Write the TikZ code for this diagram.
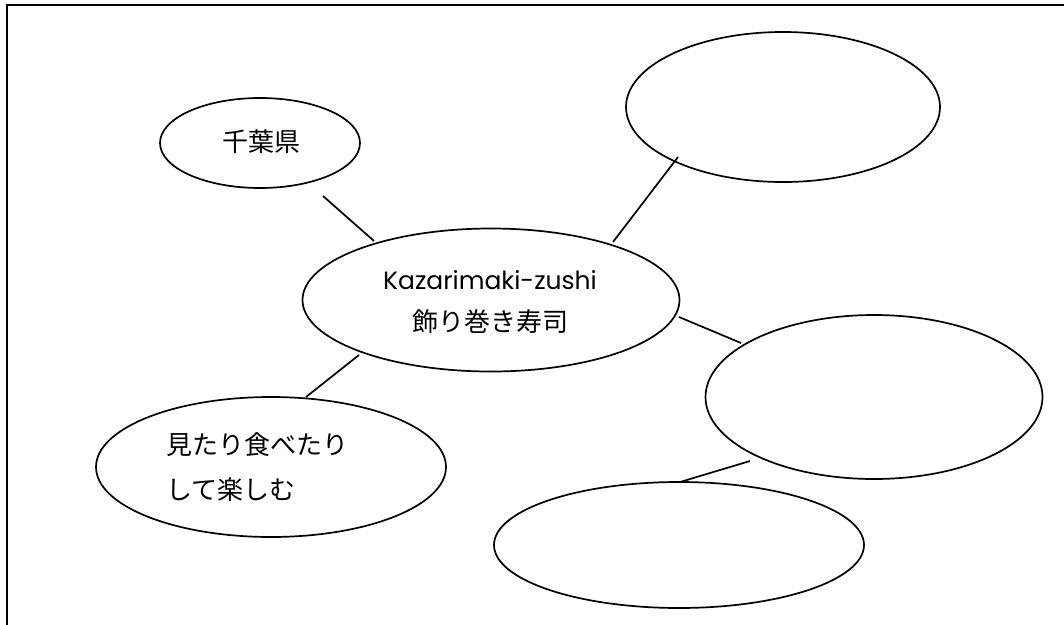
\documentclass[tikz,border=0pt]{standalone}
\usepackage{fontspec}
\setmainfont{Noto Sans CJK JP}
\newfontfamily\latinfont{Poppins}
\usetikzlibrary{shapes.geometric}
\begin{document}
\begin{tikzpicture}[x=1pt,y=-1pt,
  bubble/.style={draw=black,line width=1.7pt,ellipse,inner sep=0pt},
  link/.style={draw=black,line width=1.7pt},
  lbl/.style={inner sep=0pt,font=\fontsize{26}{30}\selectfont}]
\useasboundingbox (0,0) rectangle (1064,624);
\begin{scope}
\clip (0,0) rectangle (1064,624);
\draw[line width=2.2pt] (7,5) rectangle (1075,640);
\end{scope}
% bubbles
\node[bubble,minimum width=200pt,minimum height=90pt] (chiba) at (260,143) {};
\node[bubble,minimum width=314pt,minimum height=150pt] (tr) at (783,107) {};
\node[bubble,minimum width=377pt,minimum height=143pt] (center) at (491,300) {};
\node[bubble,minimum width=337pt,minimum height=164pt] (right) at (874,397) {};
\node[bubble,minimum width=370pt,minimum height=126pt] (br) at (679,545) {};
\node[bubble,minimum width=350pt,minimum height=140pt] (bl) at (271,467) {};
% texts
\node[lbl] (t1) at (261,142) {千葉県};
\node[lbl,font=\latinfont\fontsize{25}{30}\selectfont] (t2) at (490,280) {Kazarimaki-zushi};
\node[lbl] (t3) at (490,322) {飾り巻き寿司};
\node[lbl,anchor=west] (t4) at (166,445) {見たり食べたり};
\node[lbl,anchor=west] (t5) at (166,490) {して楽しむ};
% connector end points
\coordinate (c1a) at (323,196);
\coordinate (c1b) at (374,241);
\coordinate (c2a) at (678,157);
\coordinate (c2b) at (613,242);
\coordinate (c3a) at (679,317);
\coordinate (c3b) at (741,343);
\coordinate (c4a) at (750,461);
\coordinate (c4b) at (680,482);
\coordinate (c5a) at (359,355);
\coordinate (c5b) at (306,397);
\draw[link] (c1a) -- (c1b);
\draw[link] (c2a) -- (c2b);
\draw[link] (c3a) -- (c3b);
\draw[link] (c4a) -- (c4b);
\draw[link] (c5a) -- (c5b);
\end{tikzpicture}
\end{document}
